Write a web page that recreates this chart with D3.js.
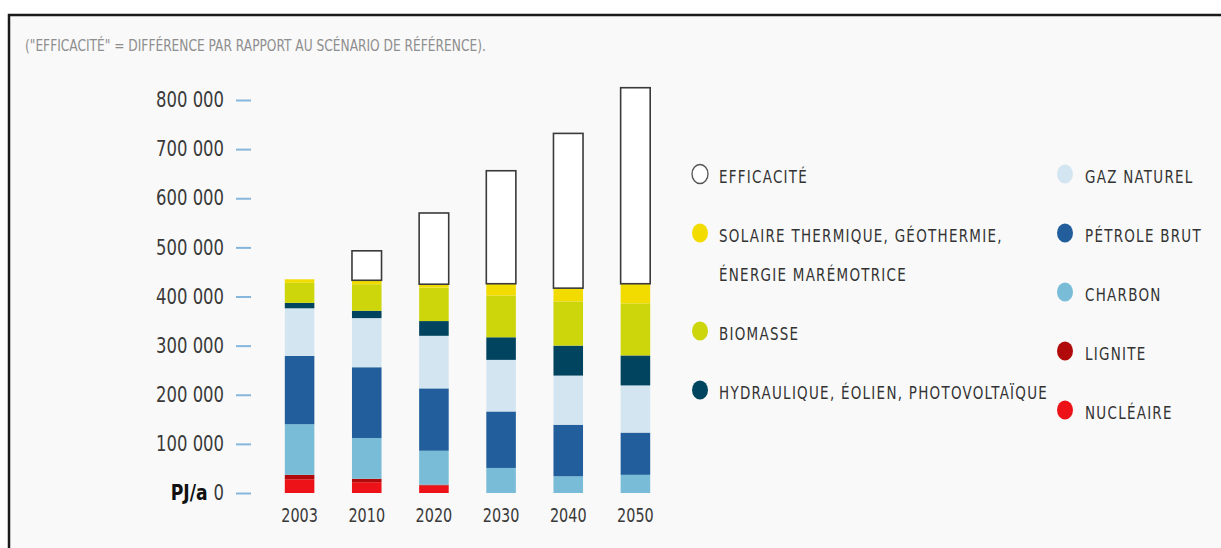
<!DOCTYPE html>
<html>
<head>
<meta charset="utf-8">
<script src="https://cdn.jsdelivr.net/npm/d3@7"></script>
<style>
  html, body { margin: 0; padding: 0; background: #ffffff; }
  svg { display: block; }
  .cond { font-family: "DejaVu Sans Condensed", "DejaVu Sans", sans-serif; }
</style>
</head>
<body>
<svg id="chart" width="1221" height="548"></svg>
<script>
// ---- data ----
const years = ["2003", "2010", "2020", "2030", "2040", "2050"];
const nucleaire  = [28000, 22000, 15000, 0, 0, 0];
const lignite    = [9000, 7000, 2000, 0, 0, 0];
const charbon    = [103000, 83000, 69000, 51000, 34000, 37000];
const petrole    = [139000, 144000, 127000, 115000, 105000, 86000];
const gaz        = [97000, 100000, 107000, 105000, 100000, 96000];
const hydro      = [11000, 15000, 30000, 46000, 61000, 61000];
const biomasse   = [41000, 54000, 68000, 85000, 90000, 106000];
const solaire    = [7000, 8000, 7000, 24000, 27000, 40000];
const efficacite = [0, 60000, 145000, 230000, 315000, 399000];
const yTicks = [0, 100000, 200000, 300000, 400000, 500000, 600000, 700000, 800000];
const subtitle = "(\"EFFICACITÉ\" = DIFFÉRENCE PAR RAPPORT AU SCÉNARIO DE RÉFÉRENCE).";
const unitLabel = "PJ/a";

const seriesKeys = ["nucleaire", "lignite", "charbon", "petrole", "gaz", "hydro", "biomasse", "solaire", "efficacite"];
const seriesValues = { nucleaire, lignite, charbon, petrole, gaz, hydro, biomasse, solaire, efficacite };
const colors = {
  nucleaire: "#ec1218", lignite: "#b00a0a", charbon: "#78bcd8", petrole: "#215e9b",
  gaz: "#d3e5f0", hydro: "#00445f", biomasse: "#cdd60b", solaire: "#f2dc00", efficacite: "#ffffff"
};
const legendLeft = [
  { key: "efficacite", lines: ["EFFICACITÉ"] },
  { key: "solaire", lines: ["SOLAIRE THERMIQUE, GÉOTHERMIE,", "ÉNERGIE MARÉMOTRICE"] },
  { key: "biomasse", lines: ["BIOMASSE"] },
  { key: "hydro", lines: ["HYDRAULIQUE, ÉOLIEN, PHOTOVOLTAÏQUE"] }
];
const legendRight = [
  { key: "gaz", lines: ["GAZ NATUREL"] },
  { key: "petrole", lines: ["PÉTROLE BRUT"] },
  { key: "charbon", lines: ["CHARBON"] },
  { key: "lignite", lines: ["LIGNITE"] },
  { key: "nucleaire", lines: ["NUCLÉAIRE"] }
];

// ---- drawing ----
const svg = d3.select("#chart");

// frame
svg.append("rect").attr("x", 9).attr("y", 15).attr("width", 1240).attr("height", 560)
  .attr("fill", "#f9f9f9").attr("stroke", "#1a1a1a").attr("stroke-width", 2.5);

// condensed text helper (horizontal squeeze of a real text element)
function condText(parent, tx, ty, sx, size, str) {
  return parent.append("text").attr("class", "cond")
    .attr("transform", `translate(${tx},${ty}) scale(${sx},1)`)
    .attr("font-size", size).text(str);
}

condText(svg, 25, 51, 0.85, 16, subtitle).attr("fill", "#8e8e8e");

const rows = years.map((yr, i) => {
  const r = { year: yr };
  seriesKeys.forEach(k => r[k] = seriesValues[k][i]);
  return r;
});

const x = d3.scaleBand().domain(years).range([266, 669]).paddingInner(0.56).paddingOuter(0.28);
const y = d3.scaleLinear().domain([0, 800000]).range([493, 100]);

const stacked = d3.stack().keys(seriesKeys)(rows);

const g = svg.append("g");
stacked.forEach(layer => {
  const key = layer.key;
  g.selectAll(null)
    .data(layer.filter(d => d[1] - d[0] > 0))
    .enter().append("rect")
    .attr("x", d => x(d.data.year))
    .attr("width", x.bandwidth())
    .attr("y", d => y(d[1]))
    .attr("height", d => y(d[0]) - y(d[1]))
    .attr("fill", colors[key])
    .attr("stroke", key === "efficacite" ? "#3a3a3a" : "none")
    .attr("stroke-width", key === "efficacite" ? 1.6 : 0);
});

// y axis
const loc = d3.formatLocale({ decimal: ",", thousands: " ", grouping: [3], currency: ["", ""] });
const fmt = loc.format(",d");
const ySx = 0.87;
const yAxis = svg.append("g").attr("transform", "translate(251,0)")
  .call(d3.axisLeft(y).tickValues(yTicks).tickSize(15).tickPadding(12).tickFormat(fmt));
yAxis.select(".domain").remove();
yAxis.selectAll(".tick line").attr("stroke", "#86b6dc").attr("stroke-width", 2);
yAxis.selectAll(".tick text")
  .attr("class", "cond").attr("font-size", 21).attr("fill", "#3a3a3a")
  .attr("font-family", null)
  .attr("x", -27 / ySx)
  .attr("transform", `scale(${ySx},1)`);
yAxis.selectAll(".tick").filter(d => d === 0).select("text")
  .text(null)
  .call(t => {
    t.append("tspan").attr("font-weight", "bold").attr("font-size", 22).attr("fill", "#111").text(unitLabel + " ");
    t.append("tspan").text(fmt(0));
  });

// x axis
const xAxis = svg.append("g").attr("transform", "translate(0,508)")
  .call(d3.axisBottom(x).tickSize(0).tickPadding(0));
xAxis.select(".domain").remove();
xAxis.selectAll(".tick text").attr("class", "cond").attr("font-size", 20)
  .attr("fill", "#3a3a3a").attr("font-family", null)
  .attr("transform", "scale(0.8,1)");

// legend
function drawLegend(items, cx, tx, y0) {
  let yy = y0;
  items.forEach(it => {
    const gg = svg.append("g");
    gg.append("ellipse").attr("cx", cx).attr("cy", yy - 3).attr("rx", 8).attr("ry", 9.5)
      .attr("fill", colors[it.key])
      .attr("stroke", it.key === "efficacite" ? "#555" : "none")
      .attr("stroke-width", 1.3);
    it.lines.forEach((ln, j) => {
      condText(gg, tx, yy + 6 + j * 39, 0.88, 17, ln)
        .attr("letter-spacing", 1.45).attr("fill", "#333");
    });
    yy += 59 + (it.lines.length - 1) * 39;
  });
}
drawLegend(legendLeft, 700, 719, 177);
drawLegend(legendRight, 1065, 1085, 177);
</script>
</body>
</html>
